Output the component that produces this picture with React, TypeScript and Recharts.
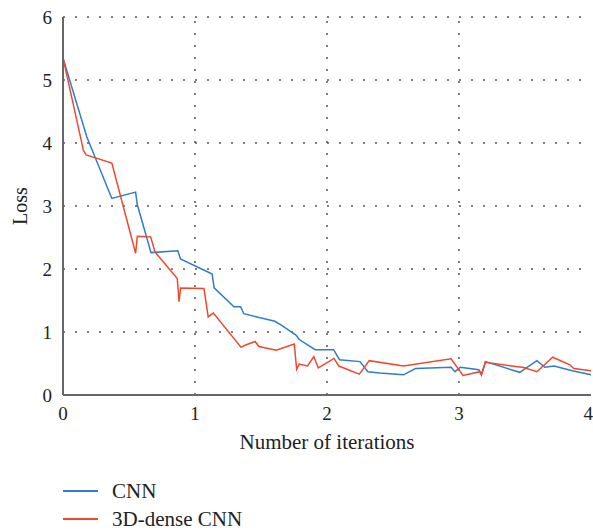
import { LineChart, Line, XAxis, YAxis, CartesianGrid, Legend, ReferenceLine } from "recharts";

// CNN curve
const cnnIter = [0, 0.18, 0.37, 0.55, 0.563, 0.667, 0.87, 0.89, 1.11, 1.13, 1.145, 1.295, 1.345, 1.37, 1.605, 1.645, 1.765, 1.79, 1.91, 2.05, 2.095, 2.25, 2.31, 2.4, 2.58, 2.67, 2.94, 2.97, 3.01, 3.15, 3.17, 3.2, 3.46, 3.59, 3.65, 3.72, 3.85, 4.0];
const cnnLoss = [5.35, 4.1, 3.12, 3.22, 3.02, 2.26, 2.29, 2.16, 1.94, 1.92, 1.7, 1.4, 1.4, 1.29, 1.17, 1.12, 0.95, 0.88, 0.72, 0.72, 0.56, 0.53, 0.37, 0.35, 0.32, 0.42, 0.44, 0.37, 0.44, 0.4, 0.32, 0.53, 0.36, 0.545, 0.44, 0.46, 0.39, 0.32];

// 3D-dense CNN curve
const denseIter = [0, 0.155, 0.175, 0.37, 0.55, 0.563, 0.664, 0.697, 0.866, 0.879, 0.891, 1.068, 1.1, 1.139, 1.348, 1.379, 1.455, 1.485, 1.615, 1.752, 1.77, 1.79, 1.853, 1.9, 1.934, 2.053, 2.09, 2.245, 2.32, 2.58, 2.94, 3.03, 3.16, 3.17, 3.2, 3.49, 3.59, 3.71, 3.84, 3.87, 4.0];
const denseLoss = [5.35, 3.88, 3.81, 3.68, 2.25, 2.52, 2.51, 2.27, 1.85, 1.48, 1.7, 1.69, 1.24, 1.3, 0.76, 0.79, 0.85, 0.77, 0.71, 0.81, 0.41, 0.49, 0.46, 0.61, 0.43, 0.58, 0.46, 0.33, 0.545, 0.46, 0.575, 0.31, 0.37, 0.32, 0.52, 0.435, 0.37, 0.6, 0.48, 0.42, 0.385];

const xTicks = [0, 1, 2, 3, 4];
const yTicks = [0, 1, 2, 3, 4, 5, 6];
const xGrid = [1, 2, 3];

const seriesNames = ["CNN", "3D-dense CNN"];
const seriesColors = ["#2f7dc8", "#f0482c"];

const FONT = "Liberation Serif";

const cnnData = cnnIter.map((x, i) => ({ x, loss: cnnLoss[i] }));
const denseData = denseIter.map((x, i) => ({ x, loss: denseLoss[i] }));

// force the serif face on tick labels
const css = `
.recharts-cartesian-axis-tick-value, .recharts-cartesian-axis-tick text {
  font-family: "Liberation Serif", serif !important;
  font-size: 19px !important;
  fill: #222 !important;
}
`;

const LegendBox = () => (
  <div style={{ fontFamily: FONT, fontSize: 21, color: "#222" }}>
    {seriesNames.map((name, i) => (
      <div key={name} style={{ display: "flex", alignItems: "center", height: 28 }}>
        <div style={{ width: 35, height: 2, background: seriesColors[i], marginRight: 14 }} />
        <span>{name}</span>
      </div>
    ))}
  </div>
);

const YLabel = (props: any) => {
  const { viewBox } = props;
  const cy = viewBox.y + viewBox.height / 2;
  return (
    <text
      x={20}
      y={cy}
      transform={`rotate(-90, 20, ${cy})`}
      textAnchor="middle"
      dominantBaseline="central"
      fontFamily={FONT}
      fontSize={20}
      fill="#222"
    >
      Loss
    </text>
  );
};

export default function App() {
  return (
    <div style={{ position: "absolute", left: 0, top: 0, fontFamily: FONT }}>
      <style>{css}</style>
      <LineChart
        width={593}
        height={530}
        margin={{ top: 17, right: 2, left: 0, bottom: 75 }}
        style={{ fontFamily: FONT }}
      >
        <CartesianGrid vertical={false} stroke="#555" strokeWidth={1.5} strokeDasharray="2 10" />
        {xGrid.map((v) => (
          <ReferenceLine key={v} x={v} stroke="#555" strokeWidth={1.5} strokeDasharray="2 10" />
        ))}
        <XAxis
          type="number"
          dataKey="x"
          domain={[0, 4]}
          ticks={xTicks}
          height={60}
          tickLine={false}
          tickMargin={6}
          axisLine={{ stroke: "#666", strokeWidth: 2 }}
          tick={{ fill: "#222", fontSize: 19, fontFamily: FONT }}
          label={{ value: "Number of iterations", position: "insideBottom", offset: 6, fill: "#222", fontSize: 21, fontFamily: FONT }}
        />
        <YAxis
          type="number"
          domain={[0, 6]}
          ticks={yTicks}
          width={63}
          tickLine={false}
          tickMargin={5}
          axisLine={{ stroke: "#666", strokeWidth: 2 }}
          tick={{ fill: "#222", fontSize: 19, fontFamily: FONT }}
          label={{ content: YLabel }}
        />
        <Legend
          layout="vertical"
          verticalAlign="middle"
          align="center"
          wrapperStyle={{ left: 63, top: 477, width: 250 }}
          content={() => <LegendBox />}
        />
        <Line
          data={cnnData}
          dataKey="loss"
          name={seriesNames[0]}
          type="linear"
          stroke={seriesColors[0]}
          strokeWidth={1.5}
          dot={false}
          isAnimationActive={false}
        />
        <Line
          data={denseData}
          dataKey="loss"
          name={seriesNames[1]}
          type="linear"
          stroke={seriesColors[1]}
          strokeWidth={1.5}
          dot={false}
          isAnimationActive={false}
        />
      </LineChart>
    </div>
  );
}
